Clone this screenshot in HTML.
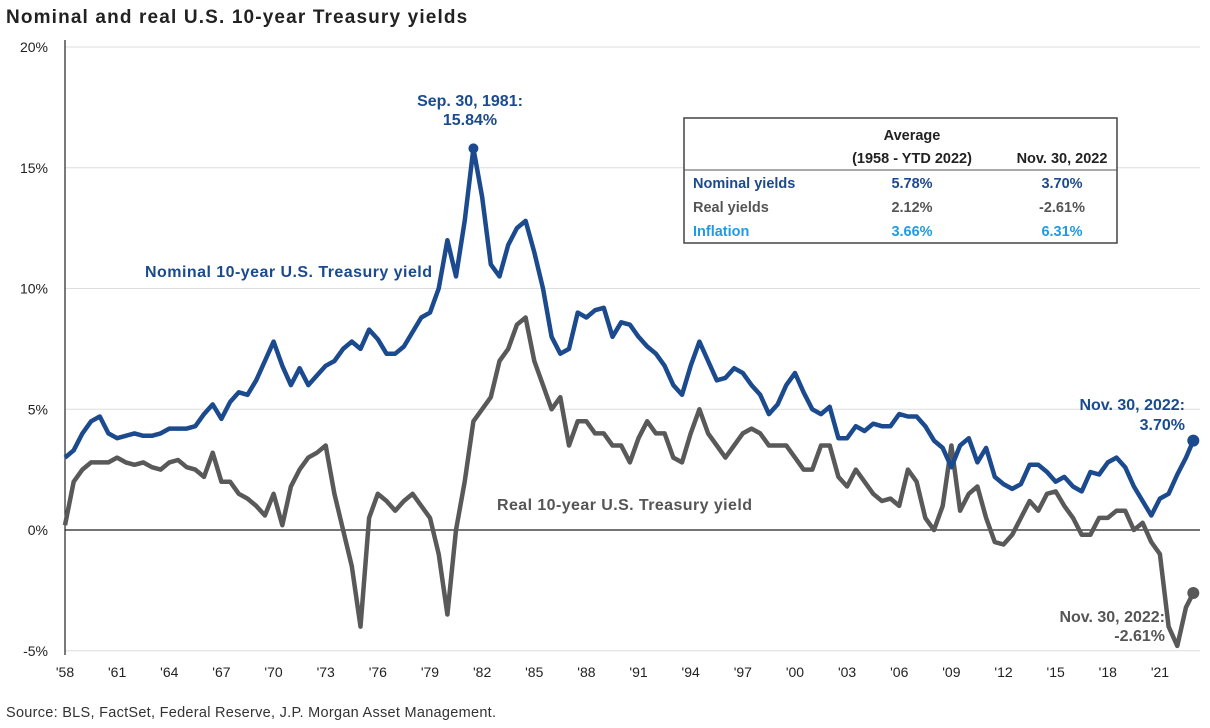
<!DOCTYPE html>
<html><head><meta charset="utf-8"><style>
body{margin:0;background:#fff;width:1210px;height:723px;overflow:hidden;font-family:"Liberation Sans",sans-serif}
svg text{font-family:"Liberation Sans",sans-serif}
</style></head><body>
<svg id="c" width="1210" height="723">
<text x="6" y="23" font-size="19" letter-spacing="0.8" font-weight="bold" fill="#222" textLength="462">Nominal and real U.S. 10-year Treasury yields</text>
<text x="6" y="717" font-size="14.5" fill="#333" textLength="490">Source: BLS, FactSet, Federal Reserve, J.P. Morgan Asset Management.</text>
<g id="grid"></g><g id="axes"></g><g id="lines"></g>
<g font-weight="bold" font-size="14.5">
<rect x="684" y="118" width="433" height="125" fill="#fff" stroke="#444" stroke-width="1.5"/>
<text x="912" y="140" text-anchor="middle" fill="#222">Average</text>
<text x="912" y="163" text-anchor="middle" fill="#222">(1958 - YTD 2022)</text>
<text x="1062" y="163" text-anchor="middle" fill="#222">Nov. 30, 2022</text>
<line x1="684" y1="170" x2="1117" y2="170" stroke="#555" stroke-width="1"/>
<text x="693" y="188" fill="#1b4a8e">Nominal yields</text><text x="912" y="188" text-anchor="middle" fill="#1b4a8e">5.78%</text><text x="1062" y="188" text-anchor="middle" fill="#1b4a8e">3.70%</text>
<text x="693" y="212" fill="#555">Real yields</text><text x="912" y="212" text-anchor="middle" fill="#555">2.12%</text><text x="1062" y="212" text-anchor="middle" fill="#555">-2.61%</text>
<text x="693" y="236" fill="#1e9be6">Inflation</text><text x="912" y="236" text-anchor="middle" fill="#1e9be6">3.66%</text><text x="1062" y="236" text-anchor="middle" fill="#1e9be6">6.31%</text>
</g>
<g font-weight="bold" font-size="16">
<text x="470" y="106" text-anchor="middle" fill="#1b4a8e">Sep. 30, 1981:</text>
<text x="470" y="125" text-anchor="middle" fill="#1b4a8e">15.84%</text>
<text x="145" y="277" fill="#1b4a8e" textLength="287">Nominal 10-year U.S. Treasury yield</text>
<text x="497" y="510" fill="#555" textLength="255">Real 10-year U.S. Treasury yield</text>
<text x="1185" y="410" text-anchor="end" fill="#1b4a8e">Nov. 30, 2022:</text>
<text x="1185" y="430" text-anchor="end" fill="#1b4a8e">3.70%</text>
<text x="1165" y="622" text-anchor="end" fill="#555">Nov. 30, 2022:</text>
<text x="1165" y="641" text-anchor="end" fill="#555">-2.61%</text>
</g>
</svg>
<script>
const startYear=1958, endT=2022.92;
const nominal=[3.0,3.3,4.0,4.5,4.7,4.0,3.8,3.9,4.0,3.9,3.9,4.0,4.2,4.2,4.2,4.3,4.8,5.2,4.6,5.3,5.7,5.6,6.2,7.0,7.8,6.8,6.0,6.7,6.0,6.4,6.8,7.0,7.5,7.8,7.5,8.3,7.9,7.3,7.3,7.6,8.2,8.8,9.0,10.0,12.0,10.5,12.8,15.8,13.8,11.0,10.5,11.8,12.5,12.8,11.5,10.0,8.0,7.3,7.5,9.0,8.8,9.1,9.2,8.0,8.6,8.5,8.0,7.6,7.3,6.8,6.0,5.6,6.8,7.8,7.0,6.2,6.3,6.7,6.5,6.0,5.6,4.8,5.2,6.0,6.5,5.7,5.0,4.8,5.1,3.8,3.8,4.3,4.1,4.4,4.3,4.3,4.8,4.7,4.7,4.3,3.7,3.4,2.6,3.5,3.8,2.8,3.4,2.2,1.9,1.7,1.9,2.7,2.7,2.4,2.0,2.2,1.8,1.6,2.4,2.3,2.8,3.0,2.6,1.8,1.2,0.6,1.3,1.5,2.3,3.0,3.70];
const real=[0.2,2.0,2.5,2.8,2.8,2.8,3.0,2.8,2.7,2.8,2.6,2.5,2.8,2.9,2.6,2.5,2.2,3.2,2.0,2.0,1.5,1.3,1.0,0.6,1.5,0.2,1.8,2.5,3.0,3.2,3.5,1.5,0.0,-1.5,-4.0,0.5,1.5,1.2,0.8,1.2,1.5,1.0,0.5,-1.0,-3.5,0.0,2.0,4.5,5.0,5.5,7.0,7.5,8.5,8.8,7.0,6.0,5.0,5.5,3.5,4.5,4.5,4.0,4.0,3.5,3.5,2.8,3.8,4.5,4.0,4.0,3.0,2.8,4.0,5.0,4.0,3.5,3.0,3.5,4.0,4.2,4.0,3.5,3.5,3.5,3.0,2.5,2.5,3.5,3.5,2.2,1.8,2.5,2.0,1.5,1.2,1.3,1.0,2.5,2.0,0.5,0.0,1.0,3.5,0.8,1.5,1.8,0.5,-0.5,-0.6,-0.2,0.5,1.2,0.8,1.5,1.6,1.0,0.5,-0.2,-0.2,0.5,0.5,0.8,0.8,0.0,0.3,-0.5,-1.0,-4.0,-4.8,-3.2,-2.61];
const yTicks=[-5,0,5,10,15,20];
const xTickLabels=["'58","'61","'64","'67","'70","'73","'76","'79","'82","'85","'88","'91","'94","'97","'00","'03","'06","'09","'12","'15","'18","'21"];
const NS="http://www.w3.org/2000/svg";
const X=t=>65+(t-startYear)*17.38;
const Y=v=>530-v*24.15;
const tOf=i=>i<130?startYear+i*0.5:endT;
function mk(tag,attrs,parent,text){const e=document.createElementNS(NS,tag);for(const k in attrs)e.setAttribute(k,attrs[k]);if(text!==undefined)e.textContent=text;document.getElementById(parent).appendChild(e);return e;}
yTicks.forEach(v=>{
 if(v!==0){const g=mk('line',{x1:65,x2:1200,y1:Y(v),y2:Y(v),stroke:'#ddd','stroke-width':1},'grid');
 
 }
 const t=mk('text',{x:48,y:Y(v)+5,'text-anchor':'end','font-size':14,fill:'#222'},'axes',v+'%');
 
 
});
xTickLabels.forEach((l,i)=>{
 const t=mk('text',{x:X(startYear+i*3),y:677,'text-anchor':'middle','font-size':14,fill:'#222'},'axes',l);
 
 
});
const ya=mk('line',{x1:65,x2:65,y1:40,y2:655,stroke:'#222','stroke-width':1.2},'axes');


const za=mk('line',{x1:65,x2:1200,y1:Y(0),y2:Y(0),stroke:'#222','stroke-width':1.2},'axes');


function series(arr,col,name){
 const d=arr.map((v,i)=>(i?'L':'M')+X(tOf(i)).toFixed(1)+','+Y(v).toFixed(1)).join('');
 const p=mk('path',{d:d,fill:'none',stroke:col,'stroke-width':4.5,'stroke-linejoin':'round'},'lines');
 
 
 const n=arr.length-1;
 const c=mk('circle',{cx:X(tOf(n)),cy:Y(arr[n]),r:6,fill:col},'lines');
 
 
}
series(real,'#595959','real-yield-line');
series(nominal,'#1b4a8e','nominal-yield-line');
let pk=nominal.indexOf(Math.max(...nominal));
const pd=mk('circle',{cx:X(tOf(pk)),cy:Y(nominal[pk]),r:5,fill:'#1b4a8e'},'lines');


</script>
</body></html>
